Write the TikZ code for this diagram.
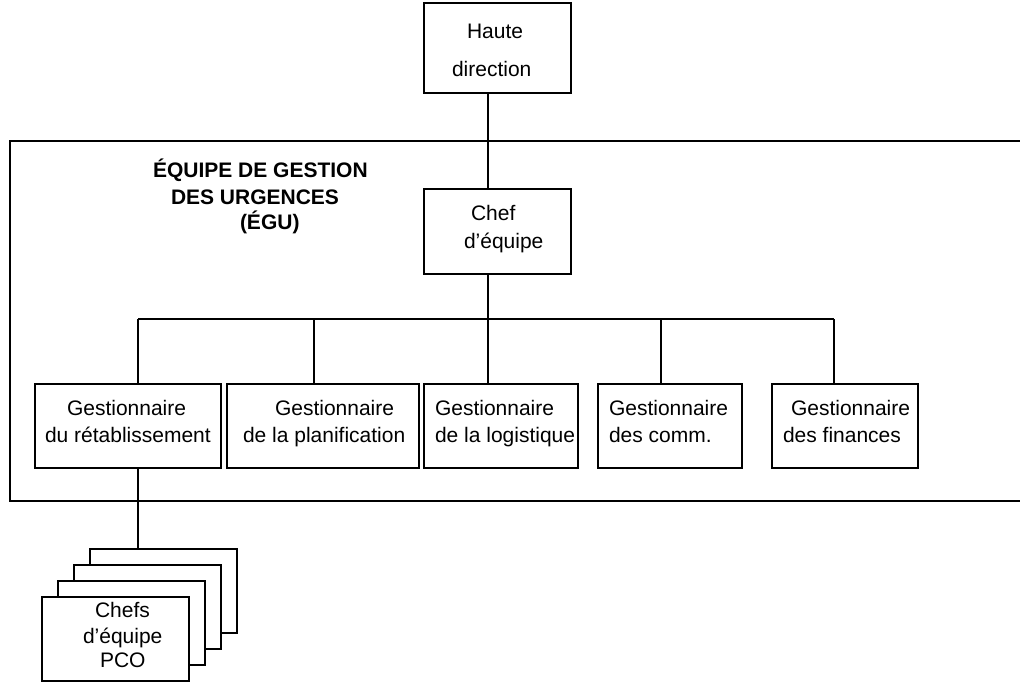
\documentclass[tikz,border=0pt]{standalone}
\usepackage{fontspec}
\setmainfont{Liberation Sans}
\begin{document}
\begin{tikzpicture}[x=1pt,y=-1pt,line width=1.4pt,
  orgbox/.style n args={2}{draw,fill=white,inner sep=0pt,outer sep=0pt,anchor=north west,minimum width=#1,minimum height=#2},
  lbl/.style={anchor=base west,inner sep=0pt,outer sep=0pt,font=\fontsize{21}{25}\selectfont},
  ttl/.style={anchor=base west,inner sep=0pt,outer sep=0pt,font=\fontsize{21}{25}\selectfont\bfseries}]
\useasboundingbox (0,0) rectangle (1020,682);
% frame of the team
\coordinate (fr1) at (1024,141);
\coordinate (fr2) at (10,501);
\coordinate (fr3) at (1024,501);
\draw (fr1) -| (fr2) -- (fr3);
% boxes
\node[orgbox={147pt}{90pt}] (hd) at (424,3) {};
\node[orgbox={147pt}{85pt}] (chef) at (424,189) {};
\node[orgbox={186pt}{84pt}] (g1) at (35,384) {};
\node[orgbox={192pt}{84pt}] (g2) at (227,384) {};
\node[orgbox={154pt}{84pt}] (g3) at (424,384) {};
\node[orgbox={144pt}{84pt}] (g4) at (598,384) {};
\node[orgbox={146pt}{84pt}] (g5) at (772,384) {};
% connectors
\coordinate (bar) at (488,319);
\coordinate (d1) at (138,319);
\coordinate (d2) at (314,319);
\coordinate (d4) at (661,319);
\coordinate (d5) at (834,319);
\draw (hd.south -| bar) -- (chef.north -| bar);
\draw (chef.south -| bar) -- (bar);
\draw (d1) -- (d5);
\draw (d1) -- (g1.north -| d1);
\draw (d2) -- (g2.north -| d2);
\draw (bar) -- (g3.north -| bar);
\draw (d4) -- (g4.north -| d4);
\draw (d5) -- (g5.north -| d5);
% stack of PCO boxes
\node[orgbox={147pt}{84pt}] (s4) at (90,549) {};
\node[orgbox={147pt}{84pt}] (s3) at (74,565) {};
\node[orgbox={147pt}{84pt}] (s2) at (58,581) {};
\node[orgbox={147pt}{84pt}] (s1) at (42,597) {};
\draw (g1.south -| d1) -- (s4.north -| d1);
% texts
\node[lbl] (t1) at (467,39) {Haute};
\node[lbl] (t2) at (452,77) {direction};
\node[lbl] (t3) at (471,220) {Chef};
\node[lbl] (t4) at (464,248) {d’équipe};
\node[ttl] (h1) at (153,178) {ÉQUIPE DE GESTION};
\node[ttl] (h2) at (171,204) {DES URGENCES};
\node[ttl] (h3) at (240,229) {(ÉGU)};
\node[lbl] (a1) at (67,415) {Gestionnaire};
\node[lbl] (a2) at (45,442) {du rétablissement};
\node[lbl] (b1) at (275,415) {Gestionnaire};
\node[lbl] (b2) at (243,442) {de la planification};
\node[lbl] (c1) at (435,415) {Gestionnaire};
\node[lbl] (c2) at (435,442) {de la logistique};
\node[lbl] (e1) at (609,415) {Gestionnaire};
\node[lbl] (e2) at (609,442) {des comm.};
\node[lbl] (f1) at (791,415) {Gestionnaire};
\node[lbl] (f2) at (783,442) {des finances};
\node[lbl] (p1) at (95,617) {Chefs};
\node[lbl] (p2) at (83,643) {d’équipe};
\node[lbl] (p3) at (100,667) {PCO};
\end{tikzpicture}
\end{document}
